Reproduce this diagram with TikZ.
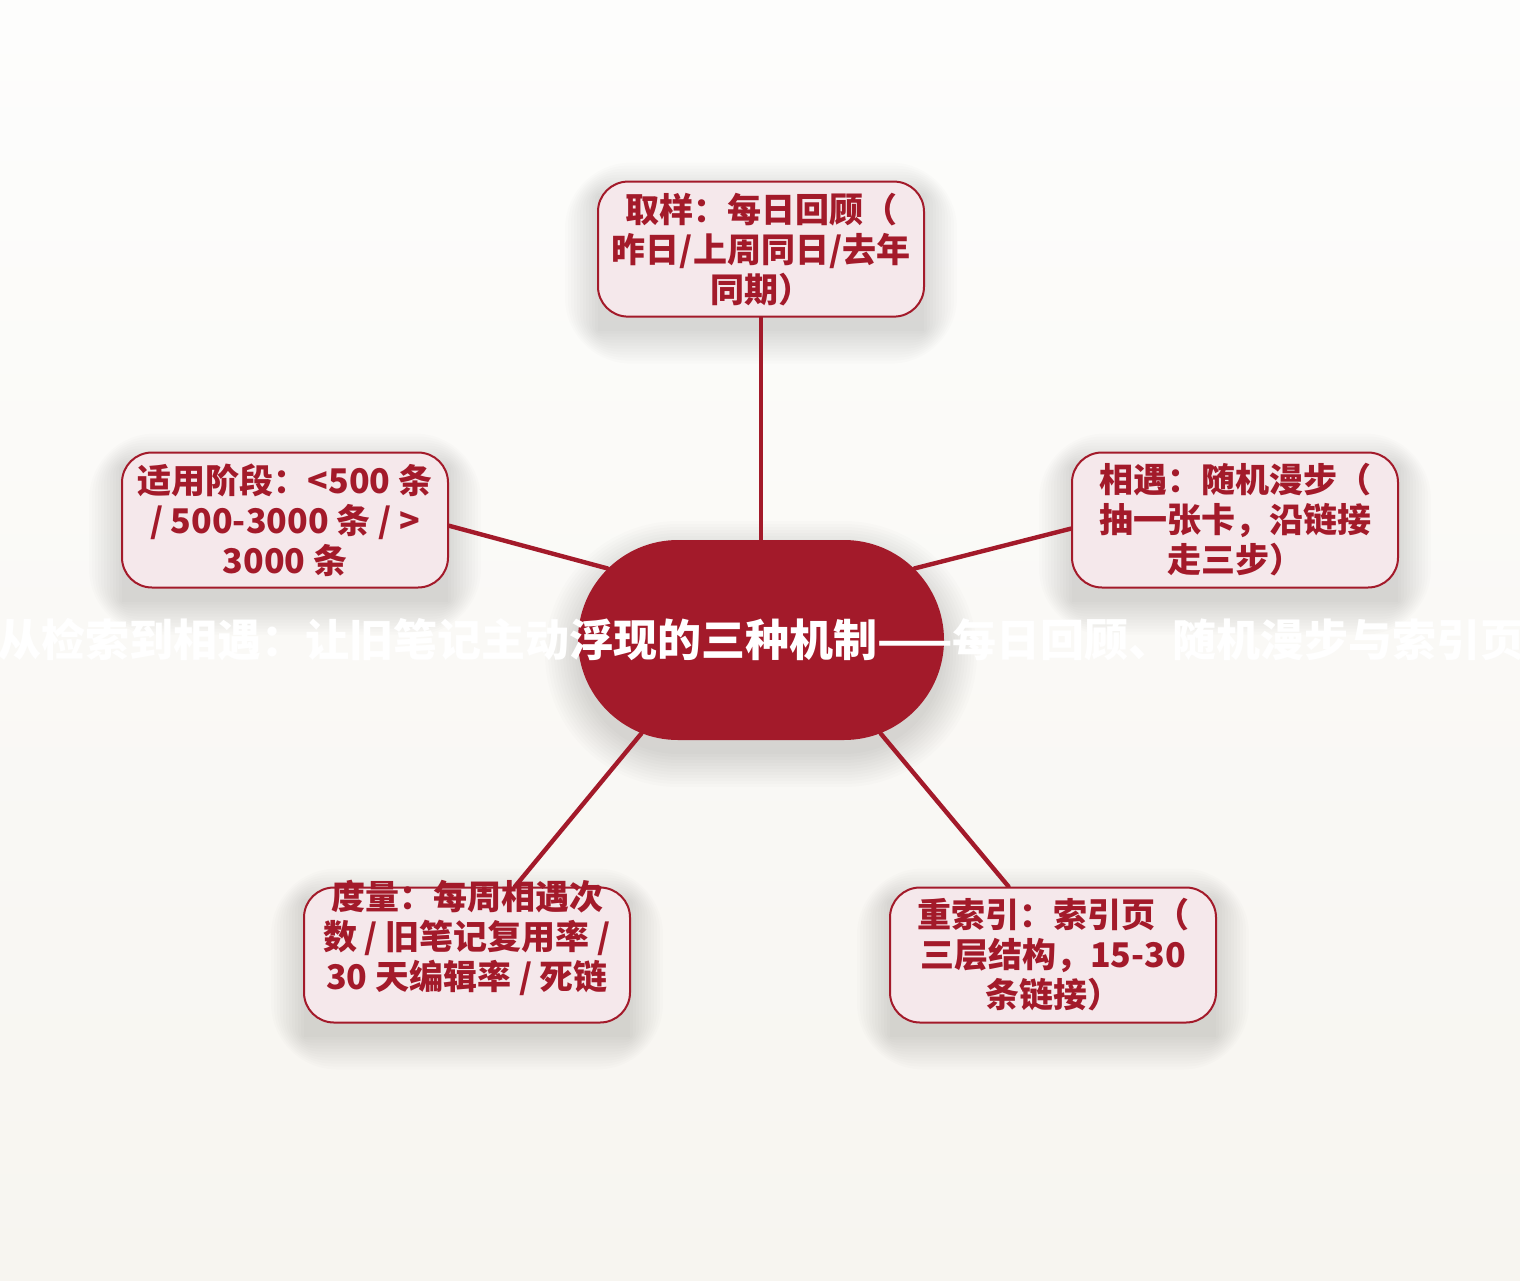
\documentclass[tikz,border=0pt]{standalone}
\usepackage{fontspec}
\newfontfamily\cjk{Noto Sans CJK SC}
\usepackage{tikz}
\usetikzlibrary{shapes.misc, positioning, calc}
\definecolor{hubred}{RGB}{163, 26, 42}
\definecolor{leaffill}{RGB}{245, 232, 235}
\definecolor{bgtop}{RGB}{253, 253, 252}
\definecolor{bgbottom}{RGB}{247, 245, 240}
\pgfdeclarelayer{bg}
\pgfdeclarelayer{edges}
\pgfsetlayers{bg,edges,main}

\begin{document}
\begin{tikzpicture}[
    x=0.5pt, y=-0.5pt,
    hub/.style={rounded rectangle, fill=hubred, minimum width=183pt, minimum height=100pt, inner sep=0pt},
    leaf/.style={draw=hubred, line width=1pt, fill=leaffill, rounded corners=15pt, minimum width=163pt, minimum height=67.5pt,
        inner sep=0pt, align=center, text=hubred, font=\cjk\bfseries\fontsize{17pt}{20pt}\selectfont},
    link/.style={draw=hubred, line width=2.2pt, line cap=round},
    haze/.style={fill=black, opacity=0.010}
]
    \useasboundingbox (0,0) rectangle (1520,1280);

    % centre
    \node[hub, label={[text=white, font=\cjk\bfseries\fontsize{22pt}{26pt}\selectfont]center:从检索到相遇：让旧笔记主动浮现的三种机制——每日回顾、随机漫步与索引页}] (hub) at (761,640) {};

    % branches
    \node[leaf, above=111pt of hub] (sampling) {取样：每日回顾（\\昨日/上周同日/去年\\同期）};
    \node[leaf] (stage) at (285,520) {适用阶段：<500 条\\/ 500-3000 条 / >\\3000 条};
    \node[leaf] (encounter) at (1235,520) {相遇：随机漫步（\\抽一张卡，沿链接\\走三步）};
    \node[leaf, label={[text=hubred, font=\cjk\bfseries\fontsize{17pt}{20pt}\selectfont, align=center, yshift=8.5pt]center:度量：每周相遇次\\数 / 旧笔记复用率 /\\30 天编辑率 / 死链}] (metric) at (467,955) {};
    \node[leaf] (reindex) at (1053,955) {重索引：索引页（\\三层结构，15-30\\条链接）};

    \begin{pgfonlayer}{edges}
        \draw[link] (hub) -- (sampling);
        \draw[link] (hub.155) -- (stage.-2);
        \draw[link] (hub.25) -- (encounter.183);
        \draw[link] (hub.218) -- (metric.55);
        \draw[link] (hub.322) -- (reindex.123);
    \end{pgfonlayer}

    \begin{pgfonlayer}{bg}
        \fill[top color=bgtop, bottom color=bgbottom] (0,0) rectangle (1520,1280);
        % soft shadows
        \foreach \s in {0,3,...,33}
            \fill[haze] ($(hub)+(-83,-86-\s)$) -- ($(hub)+(83,-86-\s)$)
                arc[start angle=90, end angle=-90, radius={(100+\s)*0.5pt}]
                -- ($(hub)+(-83,114+\s)$)
                arc[start angle=-90, end angle=-270, radius={(100+\s)*0.5pt}] -- cycle;
        \foreach \n in {sampling, stage, encounter, metric, reindex}
            \foreach \s [evaluate=\s as \rr using (30+\s)*0.5] in {0,3,...,33}
                \fill[haze, rounded corners=\rr pt] ($(\n)+(-163-\s,-53.5-\s)$) rectangle ($(\n)+(163+\s,81.5+\s)$);
    \end{pgfonlayer}
\end{tikzpicture}
\end{document}
